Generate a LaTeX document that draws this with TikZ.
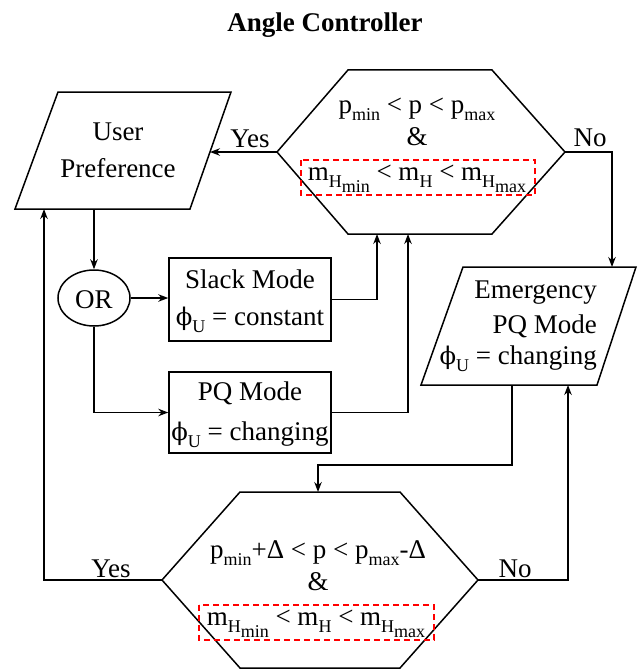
\documentclass[tikz,border=0pt]{standalone}
\usepackage{fontspec}
\setmainfont{Liberation Serif}
\newfontfamily\phifont{DejaVu Serif}[Scale=0.9]
\usetikzlibrary{arrows.meta,shapes.geometric}
% lowered, smaller text for indices
\newcommand{\lowsub}[1]{\raisebox{-0.27em}{\fontsize{18}{18}\selectfont #1}}
% upright phi with a straight stroke
\newcommand{\phiU}{{\phifont ϕ}\lowsub{U}}

\begin{document}
\begin{tikzpicture}[x=1pt,y=-1pt,
  every node/.style={inner sep=0pt, font=\fontsize{27}{32}\selectfont},
  txt/.style={anchor=base},
  rtxt/.style={anchor=base east},
  shapeline/.style={draw=black, line width=1.5pt, line join=miter},
  flow/.style={draw=black, line width=1.5pt, -{Stealth[length=10pt,width=7.5pt]}},
  boxnode/.style={draw=black, line width=1.5pt, rectangle},
  hilite/.style={draw=red, line width=1.6pt, dash pattern=on 6pt off 4pt},
]
\useasboundingbox (0,0) rectangle (640,669);
\clip (0,0) rectangle (640,669);

% title
\node[txt, font=\fontsize{27}{32}\selectfont\bfseries] (title) at (325,32) {Angle Controller};

% ---------- upper decision (hexagon) ----------
\coordinate (h1W) at (277,152);
\coordinate (h1E) at (565,152);
\coordinate (h1in1) at (377,234);
\coordinate (h1in2) at (408,234);
\draw[shapeline] (348,70) -- (492,70) -- (h1E) -- (492,234) -- (348,234) -- (h1W) -- cycle;
\node[txt] (h1a) at (417,113) {p\lowsub{min} < p < p\lowsub{max}};
\node[txt] (h1b) at (417,145) {\&};
\node[txt] (h1c) at (417,180) {m\lowsub{H\lowsub{min}} < m\lowsub{H} < m\lowsub{H\lowsub{max}}};
\draw[hilite] (301,160) rectangle (535,195);

% ---------- user preference (parallelogram) ----------
\coordinate (upE) at (210,152);
\coordinate (upS) at (94,209);
\coordinate (upS2) at (44,209);
\draw[shapeline] (58,92) -- (231,92) -- (190,209) -- (15,209) -- cycle;
\node[txt] (upa) at (118,140) {User};
\node[txt] (upb) at (118,177) {Preference};

% ---------- OR and the two modes ----------
\node[draw=black, line width=1.5pt, ellipse, minimum width=72pt, minimum height=56pt] (or) at (94,298) {};
\node[txt] (ortxt) at (94,308) {OR};

\node[boxnode, minimum width=162pt, minimum height=83pt] (slack) at (250,299.5) {};
\node[txt] (slacka) at (250,288) {Slack Mode};
\node[txt] (slackb) at (250,325) {\phiU{} = constant};

\node[boxnode, minimum width=162pt, minimum height=81pt] (pq) at (250,412.5) {};
\node[txt] (pqa) at (250,400) {PQ Mode};
\node[txt] (pqb) at (250,440) {\phiU{} = changing};

% ---------- emergency mode (parallelogram) ----------
\coordinate (emN) at (612,267);
\coordinate (emS) at (512,385);
\coordinate (emS2) at (568,385);
\draw[shapeline] (463,267) -- (636,267) -- (597,385) -- (421,385) -- cycle;
\node[rtxt] (ema) at (597,298) {Emergency};
\node[rtxt] (emb) at (597,333) {PQ Mode};
\node[rtxt] (emc) at (597,364) {\phiU{} = changing};

% ---------- lower decision (hexagon) ----------
\coordinate (h2W) at (162,580);
\coordinate (h2E) at (478,580);
\coordinate (h2N) at (318,492);
\draw[shapeline] (240,492) -- (400,492) -- (h2E) -- (400,668) -- (240,668) -- (h2W) -- cycle;
\node[txt] (h2a) at (318,558) {p\lowsub{min}+Δ < p < p\lowsub{max}-Δ};
\node[txt] (h2b) at (318,590) {\&};
\node[txt] (h2c) at (316,625) {m\lowsub{H\lowsub{min}} < m\lowsub{H} < m\lowsub{H\lowsub{max}}};
\draw[hilite] (199,605) rectangle (434,640);

% ---------- connectors ----------
\draw[flow] (h1W) -- (upE);
\draw[flow] (upS) -- (or.north);
\draw[flow] (or.east) -- (or.east -| slack.west);
\draw[flow] (or.south) |- (pq.west);
\draw[flow] (slack.east) -| (h1in1);
\draw[flow] (pq.east) -| (h1in2);
\draw[flow] (h1E) -| (emN);
\coordinate (turn) at (512,465);
\draw[flow] (emS) -- (turn) -| (h2N);
\draw[flow] (h2W) -| (upS2);
\draw[flow] (h2E) -| (emS2);

% ---------- branch labels ----------
\node[txt] (yes1) at (250,147) {Yes};
\node[txt] (no1) at (590,146) {No};
\node[txt] (yes2) at (111,577) {Yes};
\node[txt] (no2) at (515,577) {No};
\end{tikzpicture}
\end{document}
